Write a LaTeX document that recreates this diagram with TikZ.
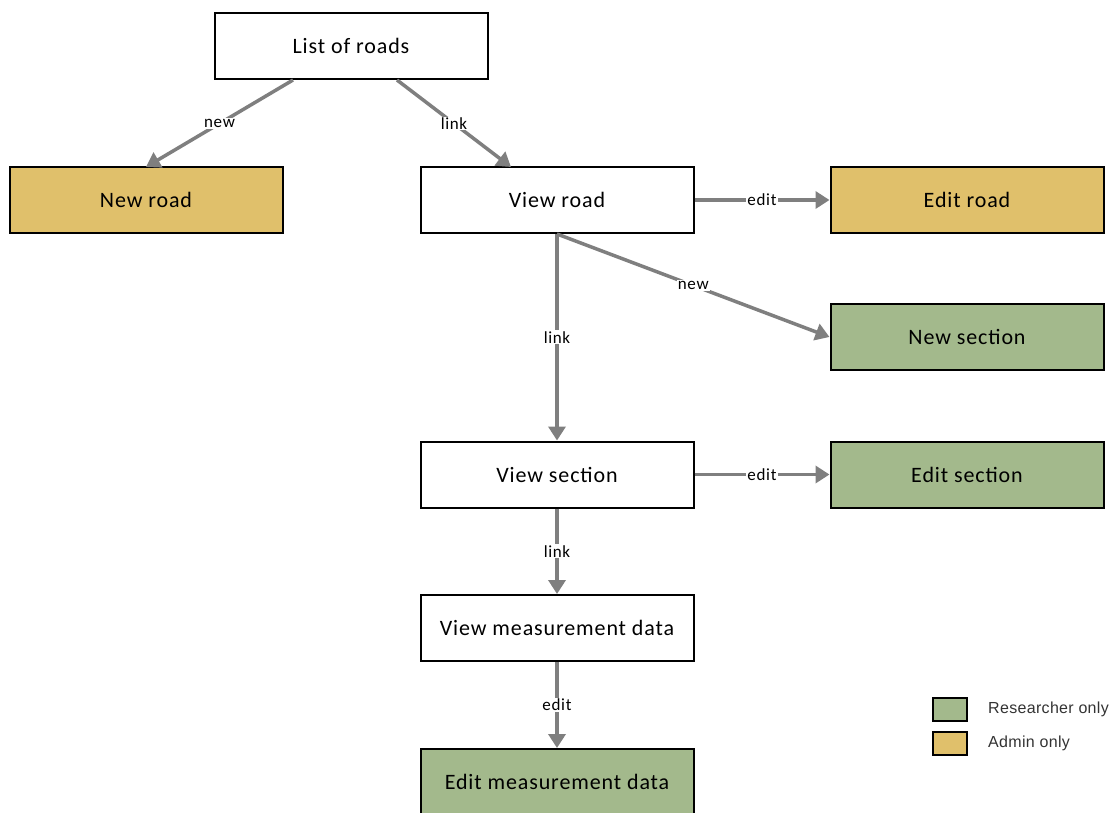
\documentclass[tikz,border=0pt]{standalone}
\usepackage{fontspec}
\setmainfont{Carlito}[LetterSpace=4]
\newfontfamily\legendfont{Liberation Sans}[LetterSpace=2]
\usetikzlibrary{arrows.meta}
\definecolor{admin}{HTML}{E0C06B}
\definecolor{research}{HTML}{A3B98C}
\definecolor{arrowgray}{HTML}{7F7F7F}
\begin{document}
\begin{tikzpicture}[x=1pt,y=-1pt,
  box/.style={draw=black, line width=2pt, minimum width=273pt, minimum height=66pt, inner sep=0pt, font=\fontsize{22}{26}\selectfont},
  adminbox/.style={box, fill=admin},
  resbox/.style={box, fill=research},
  conn/.style={draw=arrowgray, line width=3.5pt, -{Triangle[length=14pt,width=17pt]}},
  lbl/.style={fill=white, inner sep=1pt, font=\fontsize{17}{19}\selectfont, text=black},
  legbox/.style={draw=black, line width=2pt, minimum width=34pt, minimum height=23pt, inner sep=0pt},
  legtext/.style={anchor=west, inner sep=0pt, font=\legendfont\fontsize{16}{18}\selectfont, text=black!80}
]
\useasboundingbox (0,0) rectangle (1114,812);
\node[box] (lor) at (351,46) {List of roads};
\node[adminbox] (newroad) at (146,200) {New road};
\node[box] (viewroad) at (557,200) {View road};
\node[adminbox] (editroad) at (967,200) {Edit road};
\node[resbox] (newsection) at (967,337) {New section};
\node[box] (viewsection) at (557,474.5) {View section};
\node[resbox] (editsection) at (967,474.5) {Edit section};
\node[box] (viewmeas) at (557,628) {View measurement data};
\node[resbox] (editmeas) at (557,782) {Edit measurement data};

\coordinate (lorA) at (293,80);
\coordinate (lorB) at (397,80);
\coordinate (nrTop) at (146,167);
\coordinate (vrTop) at (511,167);

\draw[conn] (lorA) -- node[lbl, midway] {new} (nrTop);
\draw[conn] (lorB) -- node[lbl, midway] {link} (vrTop);
\draw[conn] (viewroad.east) -- node[lbl, midway] {edit} (editroad.west);
\draw[conn] (viewroad.south) -- node[lbl, midway] {new} (newsection.west);
\draw[conn] (viewroad.south) -- node[lbl, midway] {link} (viewsection.north);
\draw[conn] (viewsection.east) -- node[lbl, midway] {edit} (editsection.west);
\draw[conn] (viewsection.south) -- node[lbl, midway] {link} (viewmeas.north);
\draw[conn] (viewmeas.south) -- node[lbl, midway] {edit} (editmeas.north);

\node[legbox, fill=research] (legres) at (950,709.5) {};
\node[legbox, fill=admin] (legadm) at (950,743.5) {};
\node[legtext] (legrest) at (988,709.5) {Researcher only};
\node[legtext] (legadmt) at (988,743.5) {Admin only};
\end{tikzpicture}
\end{document}
